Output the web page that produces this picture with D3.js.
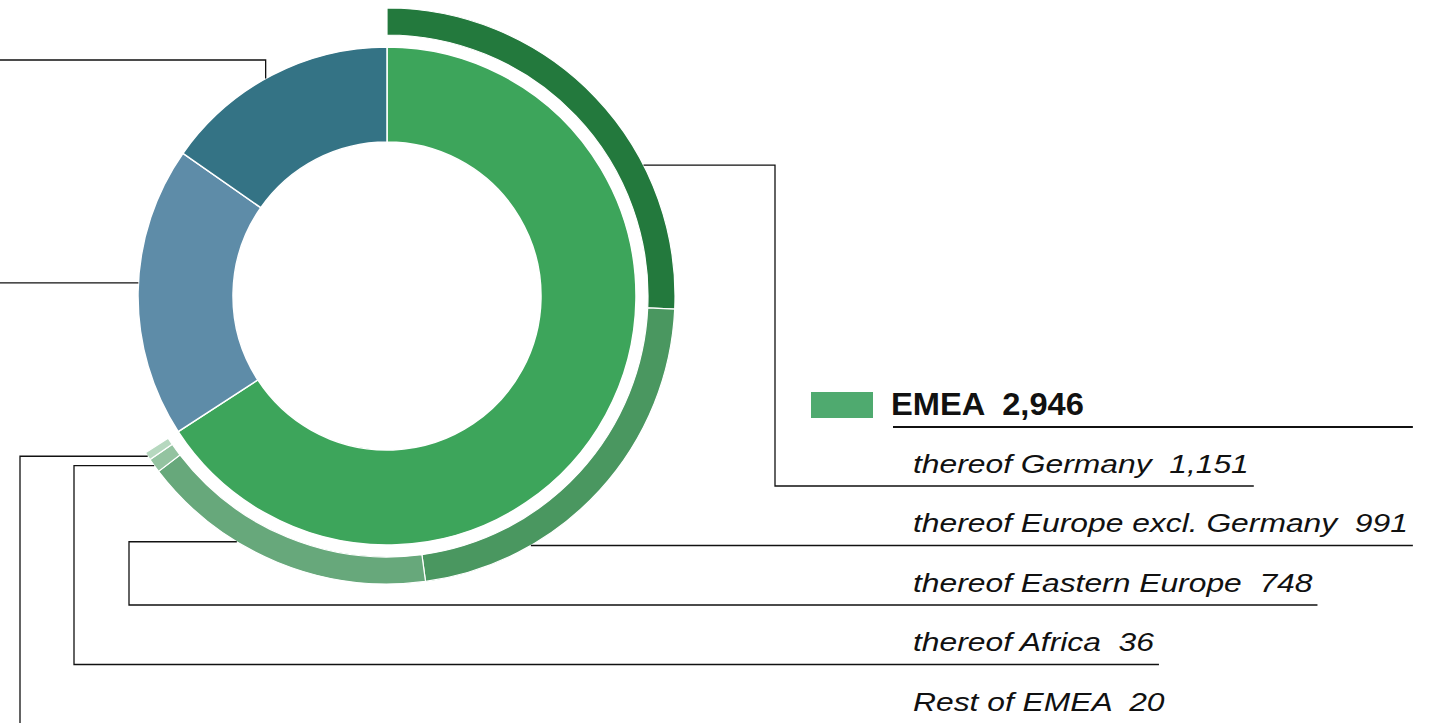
<!DOCTYPE html>
<html>
<head>
<meta charset="utf-8">
<script src="https://cdn.jsdelivr.net/npm/d3@7"></script>
<style>
  body { margin: 0; background: #fff; }
  svg { display: block; }
  text { font-family: "Liberation Sans", Arial, sans-serif; white-space: pre; fill: #111; }
</style>
</head>
<body>
<div id="chart"></div>
<script>

// inner ring: regions (only EMEA is labelled inside this crop)
var regions = ["EMEA", "Americas", "Asia Pacific"];
var regionValues = [2946, 845, 684];

// outer ring: EMEA breakdown
var emeaParts = ["thereof Germany", "thereof Europe excl. Germany", "thereof Eastern Europe", "thereof Africa", "Rest of EMEA"];
var emeaValues = [1151, 991, 748, 36, 20];

var regionColor = d3.scaleOrdinal().domain(regions).range(["#3da55b", "#5e8ca8", "#347385"]);
var partColor = d3.scaleOrdinal().domain(emeaParts).range(["#23793d", "#4a9760", "#67a87b", "#93c3a0", "#b6d8bf"]);

var width = 1434, height = 723;
var cx = 387, cy = 296;
var fmt = d3.format(",");

var svg = d3.select("#chart")
  .append("svg")
  .attr("width", width)
  .attr("height", height);

var g = svg.append("g").attr("transform", "translate(" + cx + "," + cy + ")");

// inner donut
var regionData = regions.map(function(d, i) { return {name: d, value: regionValues[i]} });
var pie = d3.pie().sort(null).value(function(d) { return d.value });
var inner = pie(regionData);
var innerArc = d3.arc().innerRadius(154).outerRadius(249);

g.selectAll("path.region")
  .data(inner)
  .enter()
  .append("path")
    .attr("class", "region")
    .attr("d", innerArc)
    .attr("fill", function(d) { return regionColor(d.data.name) })
    .attr("stroke", "#fff")
    .attr("stroke-width", 1.5);

// outer ring uses the same angle scale as the inner donut
var total = d3.sum(regionValues);
var angle = d3.scaleLinear().domain([0, total]).range([0, 2 * Math.PI]);
var outerArc = d3.arc().innerRadius(261).outerRadius(288);

var acc = 0;
var parts = emeaParts.map(function(d, i) {
  var p = {name: d, value: emeaValues[i], startAngle: angle(acc), endAngle: angle(acc + emeaValues[i])};
  acc += emeaValues[i];
  return p;
});

g.selectAll("path.part")
  .data(parts)
  .enter()
  .append("path")
    .attr("class", "part")
    .attr("d", outerArc)
    .attr("fill", function(d) { return partColor(d.name) })
    .attr("stroke", "#fff")
    .attr("stroke-width", 1.2);

function pointAt(a, r) {
  return [cx + r * Math.sin(a), cy - r * Math.cos(a)];
}

var lines = svg.append("g")
  .attr("fill", "none")
  .attr("stroke", "#111")
  .attr("stroke-width", 1.3);

// leaders for the regions whose labels lie outside the crop
var teal = inner[2], blue = inner[1];
var pt = pointAt(teal.startAngle + 0.47 * (teal.endAngle - teal.startAngle), 249);
lines.append("path").attr("d", "M" + pt[0] + "," + pt[1] + "V60H-5");
var pb = pointAt(blue.startAngle + 0.53 * (blue.endAngle - blue.startAngle), 249);
lines.append("path").attr("d", "M" + pb[0] + "," + pb[1] + "H-5");

// legend header
svg.append("rect")
  .attr("x", 811).attr("y", 392)
  .attr("width", 62).attr("height", 26)
  .attr("fill", "#4faa6f");

var headG = svg.append("g").attr("transform", "translate(891,415) scale(1.07,1)");
headG.append("text")
  .attr("font-size", 30.5)
  .attr("font-weight", "bold")
  .text(regions[0] + "  " + fmt(regionValues[0]));

// rows
var rowX = 913, rowSx = 1.2, firstUnder = 486, rowStep = 59.5;
var elbowX = [775, null, 129, 74, 20];
var attachFrac = [0.68, null, 0.65, 0.5, 0.5];
var ends = [];

parts.forEach(function(d, i) {
  var uy = firstUnder + i * rowStep;
  var tg = svg.append("g").attr("transform", "translate(" + rowX + "," + (uy - 13.5) + ") scale(" + rowSx + ",1)");
  var t = tg.append("text")
    .attr("font-size", 26.5)
    .attr("font-style", "italic")
    .text(d.name + "  " + fmt(d.value));
  var endX = rowX + t.node().getComputedTextLength() * rowSx + 5;
  ends.push(endX);

  var path;
  if (elbowX[i] === null) {
    var dy = uy - cy;
    var sx = cx + Math.sqrt(288 * 288 - dy * dy);
    path = "M" + sx + "," + uy + "H" + endX;
  } else {
    var p = pointAt(d.startAngle + attachFrac[i] * (d.endAngle - d.startAngle), 288);
    path = "M" + p[0] + "," + p[1] + "H" + elbowX[i] + "V" + uy + "H" + endX;
  }
  lines.append("path").attr("d", path);
});

// header underline
svg.append("line")
  .attr("x1", 893).attr("x2", d3.max(ends))
  .attr("y1", 427).attr("y2", 427)
  .attr("stroke", "#111")
  .attr("stroke-width", 2);

</script>
</body>
</html>
